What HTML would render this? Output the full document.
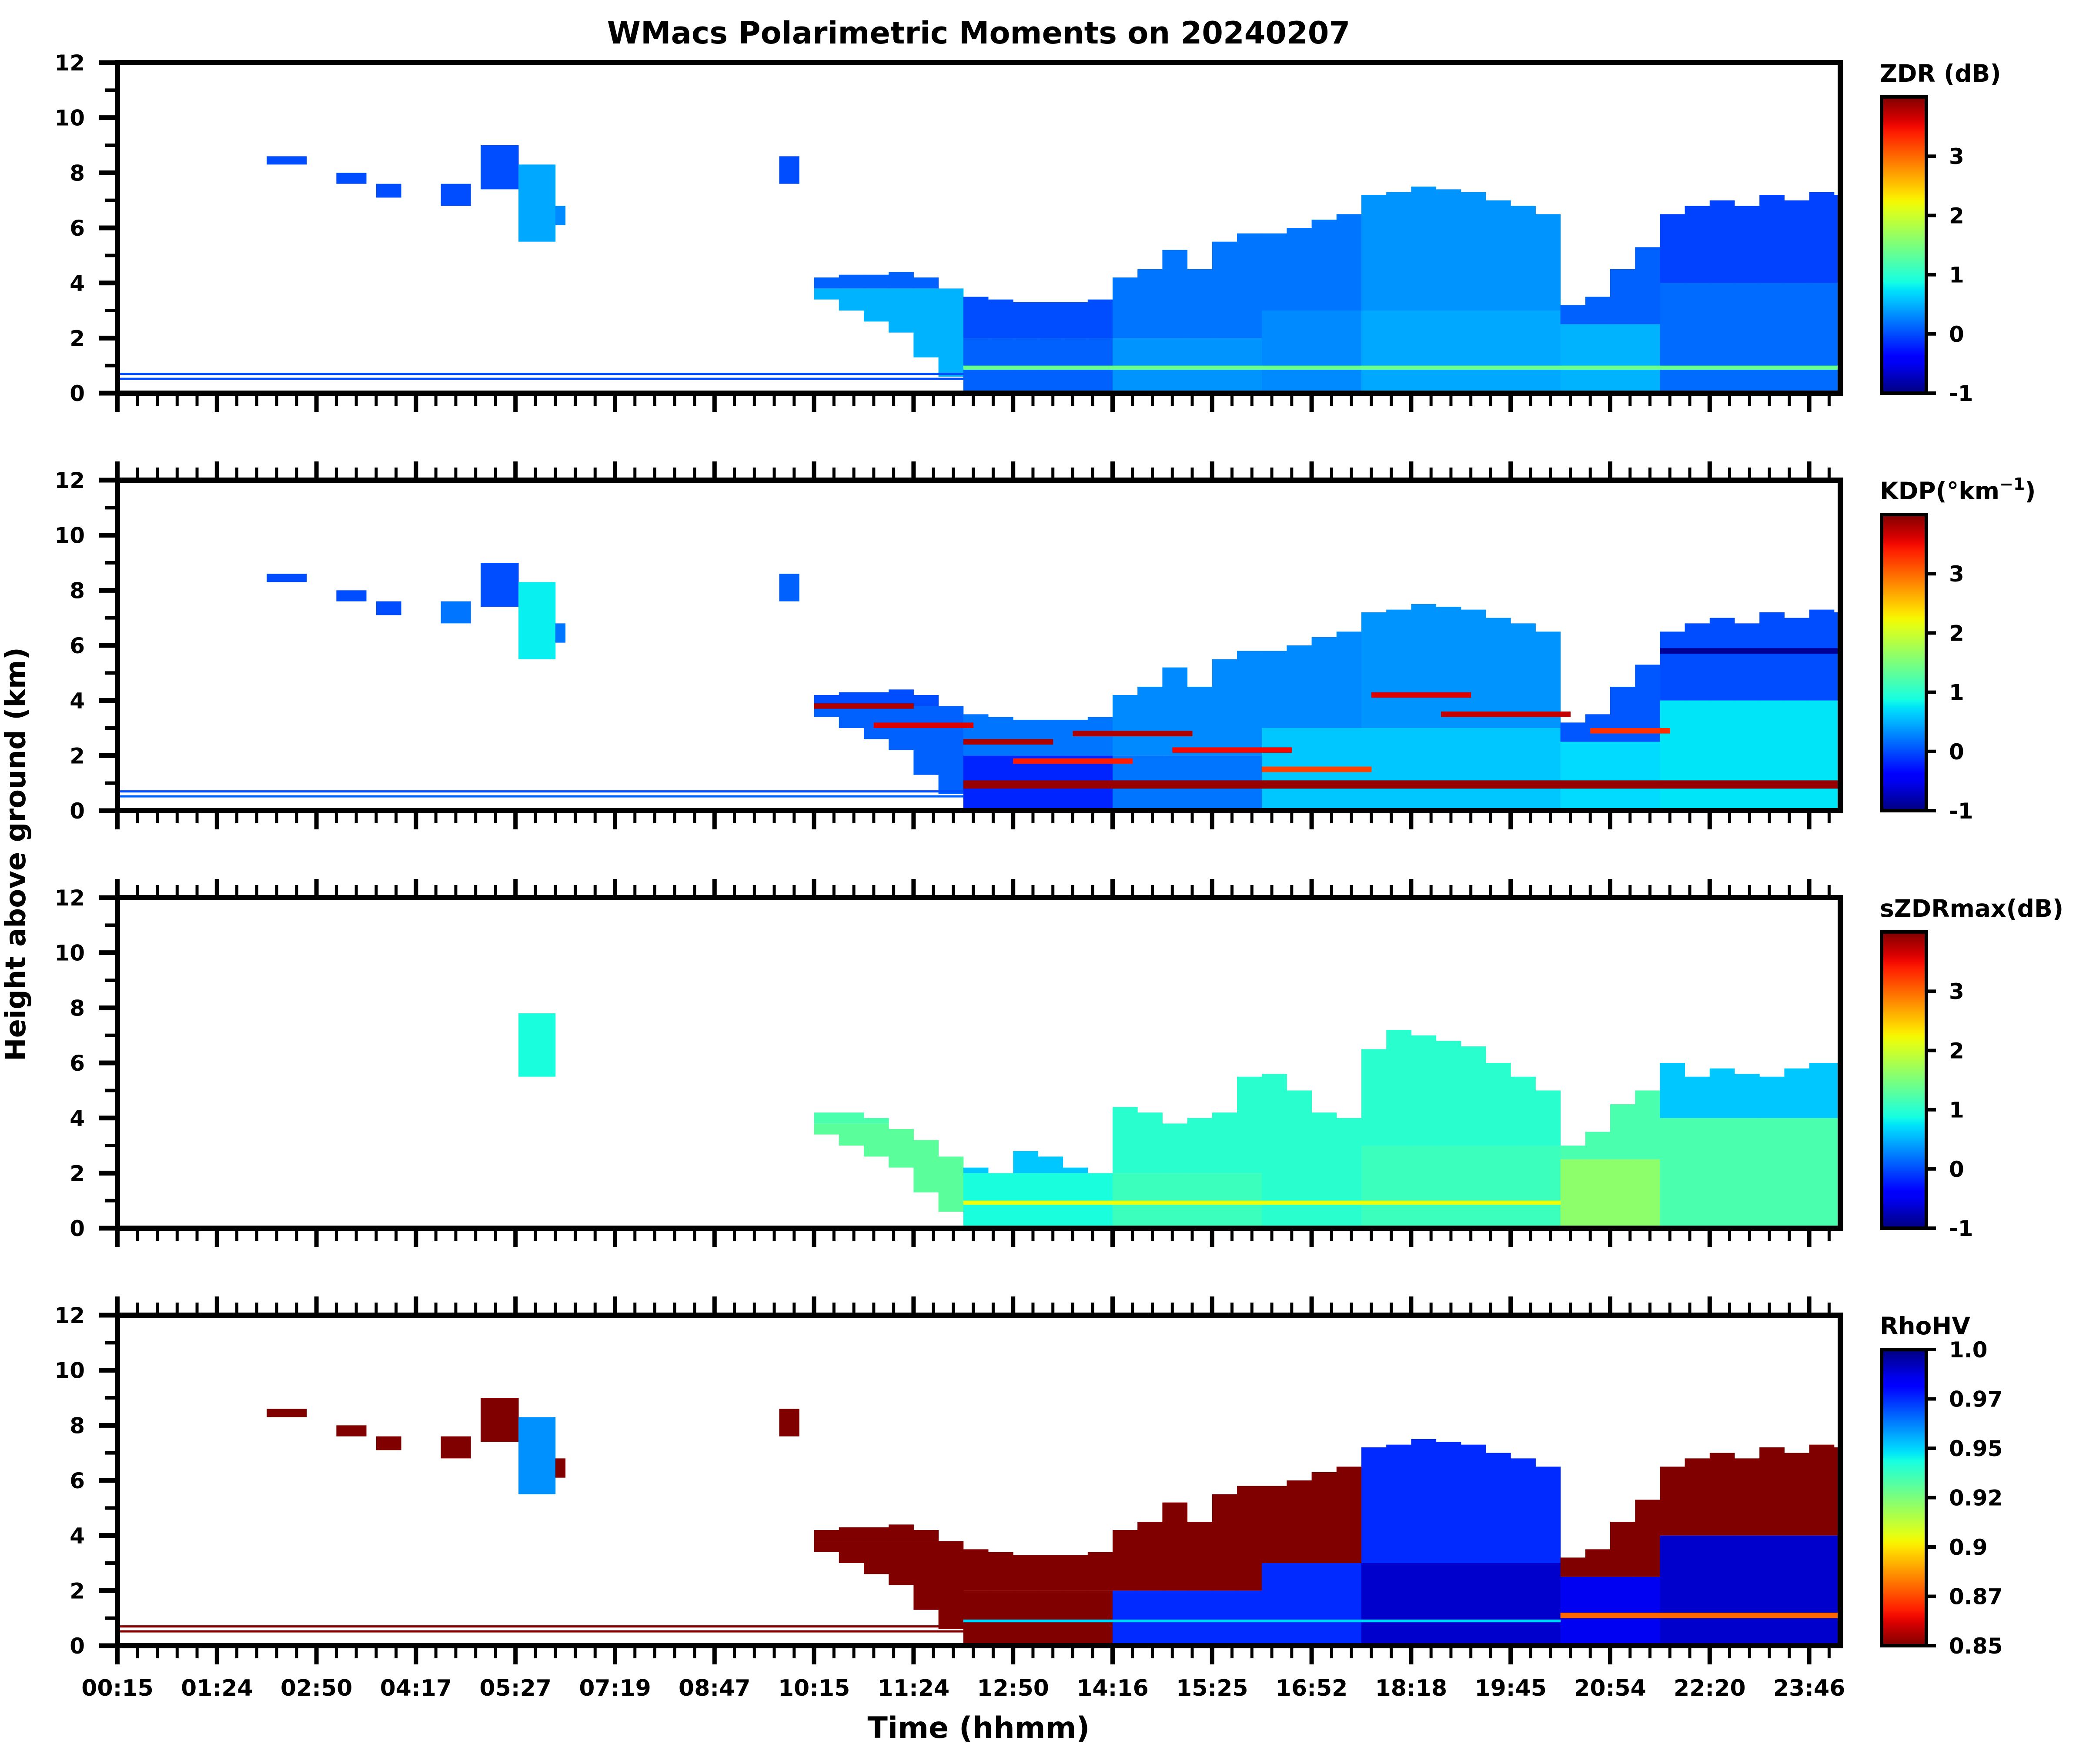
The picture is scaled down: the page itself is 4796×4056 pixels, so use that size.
<!DOCTYPE html>
<html><head><meta charset="utf-8"><style>
html,body{margin:0;padding:0;background:#fff}
svg{display:block}
text{font-family:"DejaVu Sans","Liberation Sans",sans-serif;font-weight:bold;fill:#000}
</style></head><body>
<svg id="fig" xmlns="http://www.w3.org/2000/svg" width="4796" height="4056" viewBox="0 0 4796 4056">
<text x="2250" y="100" font-size="70" text-anchor="middle">WMacs Polarimetric Moments on 20240207</text>
<text x="2250" y="3996" font-size="68" text-anchor="middle">Time (hhmm)</text>
<text transform="translate(58,1964) rotate(-90)" font-size="64" text-anchor="middle">Height above ground (km)</text>
</svg>
<script>
// ---------- data ----------
const timeLabels = ["00:15","01:24","02:50","04:17","05:27","07:19","08:47","10:15","11:24","12:50","14:16","15:25","16:52","18:18","19:45","20:54","22:20","23:46"];
const heightTicks = [0,2,4,6,8,10,12];
const panelNames = ["zdr","kdp","szdr","rhohv"];
const cbarTitles = ["ZDR (dB)","KDP","sZDRmax(dB)","RhoHV"];
const cbarTicksA = [-1,0,1,2,3];
const cbarTicksRho = [0.85,0.875,0.9,0.925,0.95,0.975,1.0];
const cbarTickLabelsRho = ["0.85","0.87","0.9","0.92","0.95","0.97","1.0"];
// echo column bins (0.25 major-tick units each), base/top heights in km
const echoBase = [null,null,null,null,null,null,null,null,null,null,null,null,null,null,null,null,null,null,null,null,null,null,null,null,null,null,null,null,
 3.4,3.0,2.6,2.2,1.3,0.6, 0,0,0,0,0,0, 0,0,0,0,0,0, 0,0,0,0, 0,0,0,0,0,0,0,0, 0,0,0,0, 0,0,0,0,0,0,0,0];
const echoTop = [null,null,null,null,null,null,null,null,null,null,null,null,null,null,null,null,null,null,null,null,null,null,null,null,null,null,null,null,
 4.2,4.3,4.3,4.4,4.2,3.8, 3.5,3.4,3.3,3.3,3.3,3.4, 4.2,4.5,5.2,4.5,5.5,5.8, 5.8,6.0,6.3,6.5, 7.2,7.3,7.5,7.4,7.3,7.0,6.8,6.5, 3.2,3.5,4.5,5.3, 6.5,6.8,7.0,6.8,7.2,7.0,7.3,7.2];
const echoTopSzdr = [null,null,null,null,null,null,null,null,null,null,null,null,null,null,null,null,null,null,null,null,null,null,null,null,null,null,null,null,
 4.2,4.2,4.0,3.6,3.2,2.6, 2.2,2.0,2.8,2.6,2.2,2.0, 4.4,4.2,3.8,4.0,4.2,5.5, 5.6,5.0,4.2,4.0, 6.5,7.2,7.0,6.8,6.6,6.0,5.5,5.0, 3.0,3.5,4.5,5.0, 6.0,5.5,5.8,5.6,5.5,5.8,6.0,6.0];
// segments of bins with a split height; values below/above split per panel
const segStart = [28,34,40,46,50,58,62];
const segEnd   = [33,39,45,49,57,61,69];
const segSplitKm = [3.8,2.0,2.0,3.0,3.0,2.5,4.0];
const zdrLow  = [0.5,0.1,0.35,0.3,0.45,0.5,0.15];
const zdrHigh = [0.1,0.0,0.2,0.2,0.35,0.1,-0.05];
const kdpLow  = [0.1,-0.2,0.2,0.6,0.6,0.7,0.75];
const kdpHigh = [0.0,0.2,0.3,0.3,0.35,0.05,0.0];
const szdrLow  = [1.3,0.9,1.1,1.0,1.1,1.6,1.2];
const szdrHigh = [1.2,0.6,1.0,1.0,1.0,1.2,0.6];
const rhoLow  = [0.85,0.85,0.975,0.975,0.99,0.985,0.99];
const rhoHigh = [0.85,0.85,0.85,0.85,0.975,0.85,0.85];
// isolated upper cloud patches (u in major-tick units, km)
const patchU0 = [1.5,2.2,2.6,3.25,3.65,4.03,4.4,6.65];
const patchU1 = [1.9,2.5,2.85,3.55,4.03,4.4,4.5,6.85];
const patchBase = [8.3,7.6,7.1,6.8,7.4,5.5,6.1,7.6];
const patchTop  = [8.6,8.0,7.6,7.6,9.0,8.3,6.8,8.6];
const patchZdr  = [0,0,0,0,0,0.45,0.3,0];
const patchKdp  = [0,0,0,0.2,0,0.8,0.2,0.1];
const patchSzdr = [null,null,null,null,null,0.9,null,null];
const patchRho  = [0.85,0.85,0.85,0.85,0.85,0.96,0.85,0.85];
// thin low-level lines (km), span u 0..8.5
const lowLineKm = [0.7,0.52];
const lowLineZdr = [0.0,0.0], lowLineKdp = [0.0,0.1], lowLineSzdr = [null,null], lowLineRho = [0.85,0.85];
// bright bands: u0,u1,km0,km1 per panel
const bandU0 = [8.5,8.5,8.5,14.5,8.5];
const bandU1 = [17.4,17.4,14.5,17.4,14.5];
const bandKm0 = [0.85,0.8,0.85,1.0,0.85];
const bandKm1 = [1.0,1.1,1.0,1.2,0.95];
const bandPanel = [0,1,2,3,3];
const bandVal = [1.4,3.9,2.2,0.88,0.95];
// KDP streaks
const streakU0 = [7.0,7.6,8.5,9.0,9.6,10.6,11.5,12.6,13.3,14.8,15.5];
const streakU1 = [8.0,8.6,9.4,10.2,10.8,11.8,12.6,13.6,14.6,15.6,17.3];
const streakKm = [3.8,3.1,2.5,1.8,2.8,2.2,1.5,4.2,3.5,2.9,5.8];
const streakVal = [3.8,3.6,3.8,3.4,3.8,3.5,3.2,3.6,3.7,3.3,-0.9];

// ---------- geometry ----------
const NS="http://www.w3.org/2000/svg";
const svg=document.getElementById('fig');
const L=270, R=4231, PH=760, tops=[144,1104,2064,3024];
const X0=270, DX=228.8;
function xs(u){return X0+DX*u;}
function ys(p,km){return tops[p]+PH*(1-km/12);}
function interp(pts,t){for(let i=1;i<pts.length;i++){if(t<=pts[i][0]){const a=pts[i-1],b=pts[i];return a[1]+(b[1]-a[1])*(t-a[0])/(b[0]-a[0]);}}return pts[pts.length-1][1];}
function jet(t){t=Math.max(0,Math.min(1,t));
 const r=interp([[0,0],[0.35,0],[0.66,1],[0.89,1],[1,0.5]],t);
 const g=interp([[0,0],[0.125,0],[0.375,1],[0.64,1],[0.91,0],[1,0]],t);
 const b=interp([[0,0.5],[0.11,1],[0.34,1],[0.65,0],[1,0]],t);
 return 'rgb('+Math.round(r*255)+','+Math.round(g*255)+','+Math.round(b*255)+')';}
function col(p,v){ if(p===3) return jet(1-(v-0.85)/0.15); return jet((v+1)/5);}
function el(tag,attrs,parent){const e=document.createElementNS(NS,tag);for(const k in attrs)e.setAttribute(k,attrs[k]);(parent||svg).appendChild(e);return e;}

const defs=el('defs',{});
for(let p=0;p<4;p++){const cp=el('clipPath',{id:'clip'+p},defs);el('rect',{x:L,y:tops[p],width:R-L,height:PH},cp);}
const gA=el('linearGradient',{id:'jetA',x1:0,y1:1,x2:0,y2:0},defs);
const gR=el('linearGradient',{id:'jetR',x1:0,y1:0,x2:0,y2:1},defs);
for(let i=0;i<=40;i++){const t=i/40;el('stop',{offset:t,'stop-color':jet(t)},gA);el('stop',{offset:t,'stop-color':jet(t)},gR);}

const segVals=[[zdrLow,zdrHigh],[kdpLow,kdpHigh],[szdrLow,szdrHigh],[rhoLow,rhoHigh]];
const patchVals=[patchZdr,patchKdp,patchSzdr,patchRho];
const lineVals=[lowLineZdr,lowLineKdp,lowLineSzdr,lowLineRho];

function rectKm(g,p,u0,u1,k0,k1,v,name){
 const r=el('rect',{x:xs(u0),y:ys(p,k1),width:xs(u1)-xs(u0)+0.5,height:ys(p,k0)-ys(p,k1),fill:col(p,v)},g);
 
 
 return r;}

for(let p=0;p<4;p++){
 const g=el('g',{'clip-path':'url(#clip'+p+')'});
 
 
 const topArr = p===2?echoTopSzdr:echoTop;
 for(let s=0;s<segStart.length;s++){
  for(let i=segStart[s];i<=segEnd[s];i++){
   const b=echoBase[i], t=topArr[i]; if(b===null||t===null) continue;
   const u0=i*0.25,u1=(i+1)*0.25, sp=Math.min(segSplitKm[s],t);
   if(sp>b) rectKm(g,p,u0,u1,b,sp,segVals[p][0][s],panelNames[p]+'-cell-low');
   if(t>sp) rectKm(g,p,u0,u1,Math.max(b,sp),t,segVals[p][1][s],panelNames[p]+'-cell-high');
  }
 }
 for(let k=0;k<patchU0.length;k++){const v=patchVals[p][k]; if(v===null) continue;
  rectKm(g,p,patchU0[k],patchU1[k],patchBase[k],p===2?Math.min(patchTop[k],7.8):patchTop[k],v,panelNames[p]+'-cloud-patch');}
 for(let k=0;k<lowLineKm.length;k++){const v=lineVals[p][k]; if(v===null) continue;
  rectKm(g,p,0,8.5,lowLineKm[k]-0.04,lowLineKm[k]+0.04,v,panelNames[p]+'-low-line');}
 for(let k=0;k<bandPanel.length;k++){ if(bandPanel[k]!==p) continue;
  rectKm(g,p,bandU0[k],bandU1[k],bandKm0[k],bandKm1[k],bandVal[k],panelNames[p]+'-bright-band');}
 if(p===1){for(let k=0;k<streakU0.length;k++) rectKm(g,p,streakU0[k],streakU1[k],streakKm[k]-0.1,streakKm[k]+0.1,streakVal[k],'kdp-streak');}

 const fr=el('rect',{x:L,y:tops[p],width:R-L,height:PH,fill:'none',stroke:'#000','stroke-width':12});
 
 
 for(let k=0;k<=12;k++){const maj=k%2===0, y=ys(p,k);
  const t=el('line',{x1:L,x2:L-(maj?42:28),y1:y,y2:y,stroke:'#000','stroke-width':maj?11:8});
  
  }
 for(const h of heightTicks){const tx=el('text',{x:195,y:ys(p,h)+18,'font-size':50,'text-anchor':'end'});tx.textContent=h;
  
  }
 for(let m=0;m*0.2<=17.31;m++){const u=m*0.2, maj=m%5===0, x=xs(u);
  const yb=tops[p]+PH;
  const t=el('line',{x1:x,x2:x,y1:yb,y2:yb+(maj?43:29),stroke:'#000','stroke-width':maj?10:7});
  
  
  if(p>0){const t2=el('line',{x1:x,x2:x,y1:tops[p],y2:tops[p]-(maj?43:29),stroke:'#000','stroke-width':maj?10:7});
   
   }
 }
 if(p===3){timeLabels.forEach((lab,i)=>{const tx=el('text',{x:xs(i),y:3899,'font-size':52,'text-anchor':'middle'});tx.textContent=lab;
  
  });}

 const cx=4326, cw=103, cy0=tops[p]+79, cy1=tops[p]+PH;
 const cb=el('rect',{x:cx,y:cy0,width:cw,height:cy1-cy0,fill:p===3?'url(#jetR)':'url(#jetA)',stroke:'#000','stroke-width':8});
 
 
 const tt=el('text',{x:4322,y:tops[p]+44,'font-size':55});
 if(p===1){tt.textContent='KDP(°km';const sp=el('tspan',{dy:-22,'font-size':38},tt);sp.textContent='−1';const sp2=el('tspan',{dy:22},tt);sp2.textContent=')';}
 else tt.textContent=cbarTitles[p];
 
 
 const ticks = p===3?cbarTicksRho:cbarTicksA;
 ticks.forEach((v,i)=>{
  const f = p===3?(1-(v-0.85)/0.15):(v+1)/5;
  const y = cy1-(cy1-cy0)*(p===3?(1-f):f);
  const tl=el('line',{x1:cx+cw,x2:cx+cw+22,y1:y,y2:y,stroke:'#000','stroke-width':8});
  
  
  const tx=el('text',{x:4481,y:y+18,'font-size':50});
  tx.textContent = p===3?cbarTickLabelsRho[i]:String(v);
  
  
 });
}
</script>
</body></html>
